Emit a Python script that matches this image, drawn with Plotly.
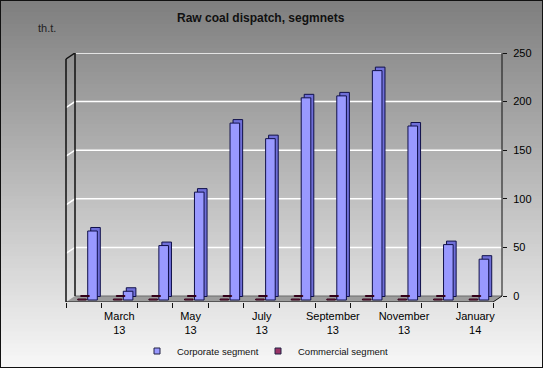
import plotly.graph_objects as go

# ---------------- data ----------------
categories = ["February 13", "March 13", "April 13", "May 13", "June 13", "July 13",
              "August 13", "September 13", "October 13", "November 13", "December 13", "January 14"]
corporate = [71, 9, 56, 111, 182, 166, 208, 210, 236, 179, 57, 42]
commercial = [1.0, 1.0, 1.0, 1.0, 1.0, 1.0, 1.0, 1.0, 1.0, 1.0, 1.0, 1.0]
tick_positions = [1, 3, 5, 7, 9, 11]
tick_labels = ["March<br>13", "May<br>13", "July<br>13", "September<br>13", "November<br>13", "January<br>14"]
y_ticks = [0, 50, 100, 150, 200, 250]
series_names = ["Corporate segment", "Commercial segment"]
title_text = "Raw coal dispatch, segmnets"
unit_text = "th.t."

# ---------------- geometry (pixels) ----------------
W, H = 543, 368
L, R, T, B = 66, 502, 53, 302
ZERO_PX = 296
PX_PER_UNIT = (ZERO_PX - T) / 250.0
Y_BOTTOM = -(B - ZERO_PX) / PX_PER_UNIT          # data value at plot bottom
CAT_W = (493 - L) / 12.0
X_MAX = -0.5 + (R - L) / CAT_W
DEPTH_XP = 9.0 / (R - L)                         # wall depth in paper units
DEPTH_YU = (B - ZERO_PX) / PX_PER_UNIT           # wall depth in data units
BAR_BASE = -4.0 / PX_PER_UNIT
EXT_X = 3.0 / CAT_W
EXT_Y = 3.5 / PX_PER_UNIT

x = list(range(len(categories)))
font_family = "Liberation Sans, Arial, sans-serif"

fig = go.Figure()

def add_series(values, offset, width, face, side, edge):
    fig.add_trace(go.Bar(x=x, y=values, base=[BAR_BASE + EXT_Y] * len(values),
                         offset=offset + EXT_X, width=width,
                         marker=dict(color=side, line=dict(color=edge, width=1)),
                         showlegend=False, hoverinfo="skip"))
    fig.add_trace(go.Bar(x=x, y=values, base=[BAR_BASE] * len(values),
                         offset=offset, width=width, showlegend=False,
                         marker=dict(color=face, line=dict(color=edge, width=1)),
                         customdata=categories, hovertemplate="%{customdata}: %{y}<extra></extra>"))

add_series(corporate, 0.11, 0.27, "#9999FF", "#6f6fd8", "#10104a")
add_series(commercial, -0.17, 0.24, "#993366", "#6a1f45", "#330019")

# legend entries (small square keys), one legend box each
for name, col, lg in zip(series_names, ["#9999FF", "#993366"], ["legend", "legend2"]):
    fig.add_trace(go.Scatter(x=[None], y=[None], mode="markers", name=name, legend=lg,
                             marker=dict(symbol="square", size=6, color=col,
                                         line=dict(color="#222244", width=1))))

shapes = []
# background gradient
N = 92
for i in range(N):
    p0 = i * H / N
    p1 = (i + 1) * H / N
    g = int(round(126 + 122 * ((p0 + p1) / 2) / H))
    shapes.append(dict(type="rect", xref="paper", yref="paper", layer="below",
                       x0=(0 - L) / (R - L), x1=(W - L) / (R - L),
                       y0=(B - p1 - 0.3) / (B - T), y1=(B - p0 + 0.3) / (B - T),
                       fillcolor="rgb(%d,%d,%d)" % (g, g, g), line=dict(width=0)))

# floor
fx = 1 - DEPTH_XP
shapes.append(dict(type="path", xref="paper", yref="y", layer="below",
                   path="M 0,%f L %f,%f L 1,0 L %f,0 Z" % (Y_BOTTOM, fx, Y_BOTTOM, DEPTH_XP),
                   fillcolor="#9c9c9c", line=dict(width=0)))
shapes.append(dict(type="line", xref="paper", yref="y", layer="below",
                   x0=DEPTH_XP, x1=1, y0=0, y1=0, line=dict(color="#6a6a6a", width=1)))
# gridlines (back wall + left wall)
for v in y_ticks[1:-1]:
    shapes.append(dict(type="path", xref="paper", yref="y", layer="below",
                       path="M 0,%f L %f,%f L 1,%f" % (v - DEPTH_YU, DEPTH_XP, v, v),
                       line=dict(color="white", width=1.5)))
shapes.append(dict(type="line", xref="paper", yref="y", layer="below",
                   x0=DEPTH_XP, x1=1, y0=250, y1=250, line=dict(color="white", width=1.5)))
# wall edges
edge = dict(color="#111111", width=1.5)
shapes.append(dict(type="line", xref="paper", yref="y", x0=0, x1=0,
                   y0=Y_BOTTOM, y1=250 - DEPTH_YU, line=edge))
shapes.append(dict(type="line", xref="paper", yref="y", x0=0, x1=DEPTH_XP,
                   y0=250 - DEPTH_YU, y1=250, line=edge))
shapes.append(dict(type="line", xref="paper", yref="y", x0=DEPTH_XP, x1=DEPTH_XP,
                   y0=0, y1=250, line=edge, layer="below"))
shapes.append(dict(type="line", xref="paper", yref="y", x0=1, x1=1,
                   y0=0, y1=250, line=dict(color="#111111", width=1)))
shapes.append(dict(type="line", xref="paper", yref="y", x0=0, x1=fx,
                   y0=Y_BOTTOM, y1=Y_BOTTOM, line=dict(color="#111111", width=1)))
shapes.append(dict(type="line", xref="paper", yref="y", x0=fx, x1=1,
                   y0=Y_BOTTOM, y1=0, line=dict(color="#111111", width=1)))
# outer border
shapes.append(dict(type="rect", xref="paper", yref="paper",
                   x0=(0 - L) / (R - L), x1=(W - L) / (R - L),
                   y0=(B - H) / (B - T), y1=B / (B - T),
                   line=dict(color="#111111", width=2), fillcolor="rgba(0,0,0,0)"))

legend_common = dict(orientation="h", xanchor="left", y=(B - 351) / (B - T), yanchor="middle",
                     font=dict(size=9.5, color="#111111"), bgcolor="rgba(0,0,0,0)",
                     itemwidth=30)

fig.update_layout(
    width=W, height=H,
    margin=dict(l=L, r=W - R, t=T, b=H - B, pad=0, autoexpand=False),
    paper_bgcolor="#b0b0b0",
    plot_bgcolor="rgba(0,0,0,0)",
    barmode="overlay",
    font=dict(family=font_family, size=11, color="#000000"),
    shapes=shapes,
    showlegend=True,
    legend=dict(x=(137 - L) / (R - L), **legend_common),
    legend2=dict(x=(258 - L) / (R - L), **legend_common),
    annotations=[
        dict(text="<b>" + title_text + "</b>", xref="paper", yref="paper",
             x=(261 - L) / (R - L), y=(B - 18) / (B - T), xanchor="center", yanchor="middle",
             showarrow=False, font=dict(size=12, color="#111111")),
        dict(text=unit_text, xref="paper", yref="paper",
             x=(36 - L) / (R - L), y=(B - 28) / (B - T), xanchor="left", yanchor="middle",
             showarrow=False, font=dict(size=11, color="#222222")),
    ],
)

fig.update_xaxes(range=[-0.5, X_MAX], tickmode="array", tickvals=tick_positions,
                 ticktext=tick_labels, ticks="", showgrid=False, zeroline=False,
                 showline=False, ticklabelstandoff=6,
                 minor=dict(tickmode="linear", tick0=-0.5, dtick=1, ticks="outside",
                            ticklen=5, tickcolor="#111111", tickwidth=1, showgrid=False),
                 fixedrange=True)
fig.update_yaxes(range=[Y_BOTTOM, 250], side="right", tickmode="array", tickvals=y_ticks,
                 ticks="outside", ticklen=4, tickcolor="#111111", showgrid=False,
                 zeroline=False, showline=False, ticklabelstandoff=4, fixedrange=True)

fig.write_html("out.html", config={"displayModeBar": False},
               post_script="document.body.style.margin='0';document.body.style.overflow='hidden';")
